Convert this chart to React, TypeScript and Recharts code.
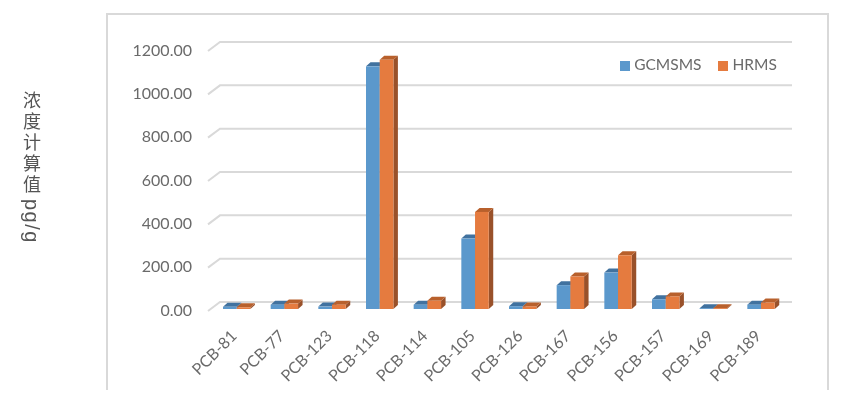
import { BarChart, Bar, XAxis, YAxis, CartesianGrid, Legend } from 'recharts';

const categories = [
  'PCB-81', 'PCB-77', 'PCB-123', 'PCB-118', 'PCB-114', 'PCB-105',
  'PCB-126', 'PCB-167', 'PCB-156', 'PCB-157', 'PCB-169', 'PCB-189',
];
const gcmsms = [10, 20, 11, 1120, 20, 325, 13, 110, 168, 45, 4, 20];
const hrms = [8, 25, 20, 1150, 38, 448, 12, 150, 248, 58, 4, 30];
const yTicks = [0, 200, 400, 600, 800, 1000, 1200];

const data = categories.map((name, i) => ({ name, GCMSMS: gcmsms[i], HRMS: hrms[i] }));

const FONT = 'Lato, "Noto Sans CJK SC", sans-serif';
const TEXT = '#6a6a6a';
const GRID = '#d9d9d9';

// fake 3D depth, same look as the office chart
const DX = 4.5;
const DY = 4;

function makeBar(front: string, top: string, side: string) {
  return function Bar3D(props: any) {
    const { x, y, width, height } = props;
    const r = x + width;
    const b = y + height;
    return (
      <g>
        <path d={`M${r},${y} L${r + DX},${y - DY} L${r + DX},${b - DY} L${r},${b} Z`} fill={side} />
        <path d={`M${x},${y} L${x + DX},${y - DY} L${r + DX},${y - DY} L${r},${y} Z`} fill={top} />
        <rect x={x} y={y} width={width} height={height} fill={front} />
      </g>
    );
  };
}

// back wall line plus the short slant on the left side wall
function wallLine(props: any) {
  const { x1, x2, y1, key } = props;
  return (
    <path
      key={key}
      d={`M${x1 - 5},${y1 + 2} L${x1 + 7},${y1 - 7} L${x2 + 7},${y1 - 7}`}
      fill="none"
      stroke={GRID}
      strokeWidth={2}
    />
  );
}

export default function App() {
  return (
    <div style={{ position: 'absolute', left: 0, top: 0, width: 846, height: 400, background: '#fff', overflow: 'hidden', filter: 'blur(0.4px)' }}>
      <div
        style={{
          position: 'absolute', left: 106, top: 13, width: 719, height: 375,
          borderTop: `2px solid ${GRID}`, borderLeft: `2px solid ${GRID}`, borderRight: `2px solid ${GRID}`,
        }}
      />
      <div
        style={{
          position: 'absolute', left: 20, top: 91, writingMode: 'vertical-rl', fontFamily: '"Noto Sans CJK SC", sans-serif',
          fontSize: 18, lineHeight: '24px', letterSpacing: 3, color: '#555', whiteSpace: 'nowrap',
        }}
      >
        浓度计算值
        <span style={{ fontFamily: '"Liberation Sans", sans-serif', fontSize: 20, letterSpacing: 1.5, marginTop: 3 }}>pg/g</span>
      </div>
      <div style={{ position: 'absolute', left: 0, top: 0 }}>
        <BarChart
          width={846}
          height={400}
          data={data}
          barSize={13.7}
          barGap={0}
          margin={{ top: 49, right: 61, left: 113, bottom: 0 }}
        >
          <CartesianGrid vertical={false} horizontal={wallLine} />
          <XAxis
            dataKey="name"
            height={91}
            interval={0}
            angle={-45}
            textAnchor="end"
            axisLine={false}
            tickLine={false}
            tickMargin={14}
            tick={{ fontSize: 16, fill: TEXT, fontFamily: FONT, dx: -7 }}
          />
          <YAxis
            width={100}
            domain={[0, 1200]}
            ticks={yTicks}
            axisLine={false}
            tickLine={false}
            tickMargin={15}
            tickFormatter={(v: number) => v.toFixed(2)}
            tick={{ fontSize: 16, fill: TEXT, fontFamily: FONT, dy: 1 }}
          />
          <Legend
            layout="horizontal"
            verticalAlign="middle"
            iconType="square"
            iconSize={10}
            wrapperStyle={{ left: 607, top: 55, width: 200, fontFamily: FONT, fontSize: 15.5 }}
            formatter={(val) => <span style={{ color: TEXT, marginRight: 7 }}>{val}</span>}
          />
          <Bar dataKey="GCMSMS" fill="#5b98cc" isAnimationActive={false} shape={makeBar('#5b98cc', '#41729f', '#41729f')} />
          <Bar dataKey="HRMS" fill="#e57b3f" isAnimationActive={false} shape={makeBar('#e57b3f', '#b8602c', '#99512a')} />
        </BarChart>
      </div>
    </div>
  );
}
